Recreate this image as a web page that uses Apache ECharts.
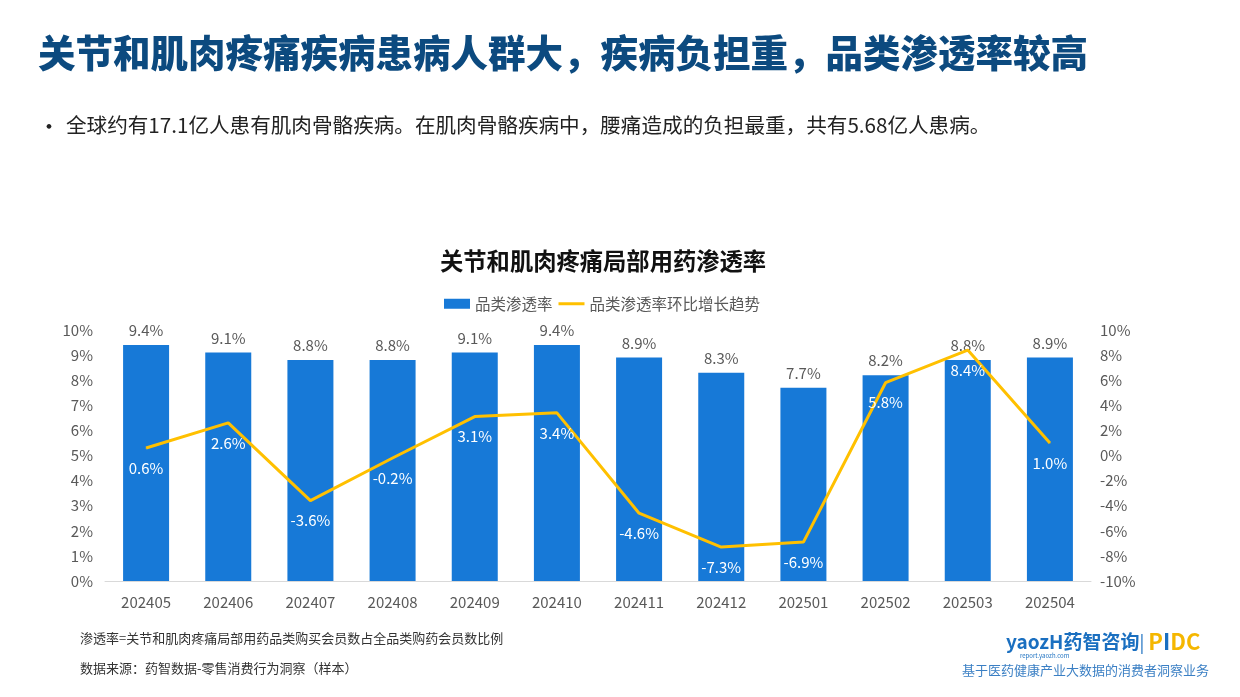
<!DOCTYPE html>
<html>
<head>
<meta charset="utf-8">
<script src="https://cdn.jsdelivr.net/npm/echarts@6/dist/echarts.min.js"></script>
<style>
  html, body { margin: 0; padding: 0; background: #fff; }
  #main { width: 1240px; height: 697px; }
</style>
</head>
<body>
<div id="main"></div>
<script>
var months = ['202405', '202406', '202407', '202408', '202409', '202410', '202411', '202412', '202501', '202502', '202503', '202504'];
var penetration = [9.4, 9.1, 8.8, 8.8, 9.1, 9.4, 8.9, 8.3, 7.7, 8.2, 8.8, 8.9];
var momGrowth = [0.6, 2.6, -3.6, -0.2, 3.1, 3.4, -4.6, -7.3, -6.9, 5.8, 8.4, 1.0];

var font = '"Noto Sans CJK SC", "Noto Sans", sans-serif';
var chart = echarts.init(document.getElementById('main'), null, { renderer: 'canvas' });

chart.setOption({
    backgroundColor: '#fff',
    textStyle: { fontFamily: font },
    title: [
        {
            text: '关节和肌肉疼痛疾病患病人群大，疾病负担重，品类渗透率较高',
            left: 33, top: 29,
            textStyle: { color: '#0c4a7f', fontSize: 37.5, fontWeight: 900, fontFamily: font }
        },
        {
            text: '•',
            left: 33, top: 110,
            textStyle: { color: '#222', fontSize: 22, fontWeight: 'normal', fontFamily: font }
        },
        {
            text: '全球约有17.1亿人患有肌肉骨骼疾病。在肌肉骨骼疾病中，腰痛造成的负担最重，共有5.68亿人患病。',
            left: 61, top: 110,
            textStyle: { color: '#222', fontSize: 20.6, fontWeight: 'normal', fontFamily: font }
        },
        {
            text: '关节和肌肉疼痛局部用药渗透率',
            left: 435, top: 245,
            textStyle: { color: '#111', fontSize: 23.3, fontWeight: 'bold', fontFamily: font }
        },
        {
            text: '渗透率=关节和肌肉疼痛局部用药品类购买会员数占全品类购药会员数比例',
            left: 75, top: 627,
            textStyle: { color: '#333', fontSize: 13, fontWeight: 'normal', fontFamily: font }
        },
        {
            text: '数据来源：药智数据-零售消费行为洞察（样本）',
            left: 75, top: 657,
            textStyle: { color: '#333', fontSize: 13, fontWeight: 'normal', fontFamily: font }
        }
    ],
    graphic: [
        {
            type: 'text', left: 1006, top: 631,
            style: {
                text: '{a|yaozH}{b|药智咨询}{c|| }{d|P}{e|I}{d|DC}',
                rich: {
                    a: { fill: '#1a6fc0', fontSize: 19, fontWeight: 'bold', fontFamily: font },
                    b: { fill: '#1a6fc0', fontSize: 19, fontWeight: 'bold', fontFamily: font },
                    c: { fill: '#1a6fc0', fontSize: 18, fontFamily: font },
                    d: { fill: '#f5b700', fontSize: 22, fontWeight: 'bold', fontFamily: font },
                    e: { fill: '#1a6fc0', fontSize: 22, fontWeight: 'bold', fontFamily: font }
                }
            }
        },
        {
            type: 'text', left: 1020, top: 653,
            style: { text: 'report.yaozh.com', fill: '#1a6fc0', fontSize: 6, fontFamily: font }
        },
        {
            type: 'text', left: 962, top: 664,
            style: { text: '基于医药健康产业大数据的消费者洞察业务', fill: '#3a7fc4', fontSize: 13, fontFamily: font }
        }
    ],
    legend: {
        top: 291, left: 439,
        itemWidth: 26, itemHeight: 10, itemGap: 6,
        textStyle: { color: '#595959', fontSize: 15.5, fontFamily: font },
        data: [
            { name: '品类渗透率', icon: 'rect' },
            { name: '品类渗透率环比增长趋势', icon: 'path://M0,0 L26,0 L26,3 L0,3 Z' }
        ]
    },
    grid: { left: 105, right: 149, top: 330, bottom: 116, containLabel: false },
    xAxis: {
        type: 'category',
        data: months,
        axisLine: { lineStyle: { color: '#d9d9d9' } },
        axisTick: { show: false },
        axisLabel: { color: '#595959', fontSize: 15, margin: 14, fontFamily: font }
    },
    yAxis: [
        {
            type: 'value', min: 0, max: 10, interval: 1,
            splitLine: { show: false },
            axisLabel: { formatter: '{value}%', color: '#595959', fontSize: 15, margin: 12, fontFamily: font }
        },
        {
            type: 'value', min: -10, max: 10, interval: 2,
            splitLine: { show: false },
            axisLabel: { formatter: '{value}%', color: '#595959', fontSize: 15, margin: 9, fontFamily: font }
        }
    ],
    series: [
        {
            name: '品类渗透率',
            type: 'bar',
            data: penetration,
            barWidth: 46,
            itemStyle: { color: '#1779d7' },
            label: { show: true, position: 'top', distance: 7, formatter: '{c}%', color: '#595959', fontSize: 15, fontFamily: font },
            z: 2
        },
        {
            name: '品类渗透率环比增长趋势',
            type: 'line',
            yAxisIndex: 1,
            data: momGrowth,
            symbol: 'circle',
            symbolSize: 1,
            showSymbol: true,
            lineStyle: { color: '#ffc000', width: 3 },
            itemStyle: { color: '#ffc000' },
            label: {
                show: true, position: 'bottom', distance: 12,
                formatter: function (p) { return p.value.toFixed(1) + '%'; },
                color: '#fff', fontSize: 15, fontFamily: font
            },
            labelLayout: { hideOverlap: false },
            z: 3
        }
    ]
});
</script>
</body>
</html>
